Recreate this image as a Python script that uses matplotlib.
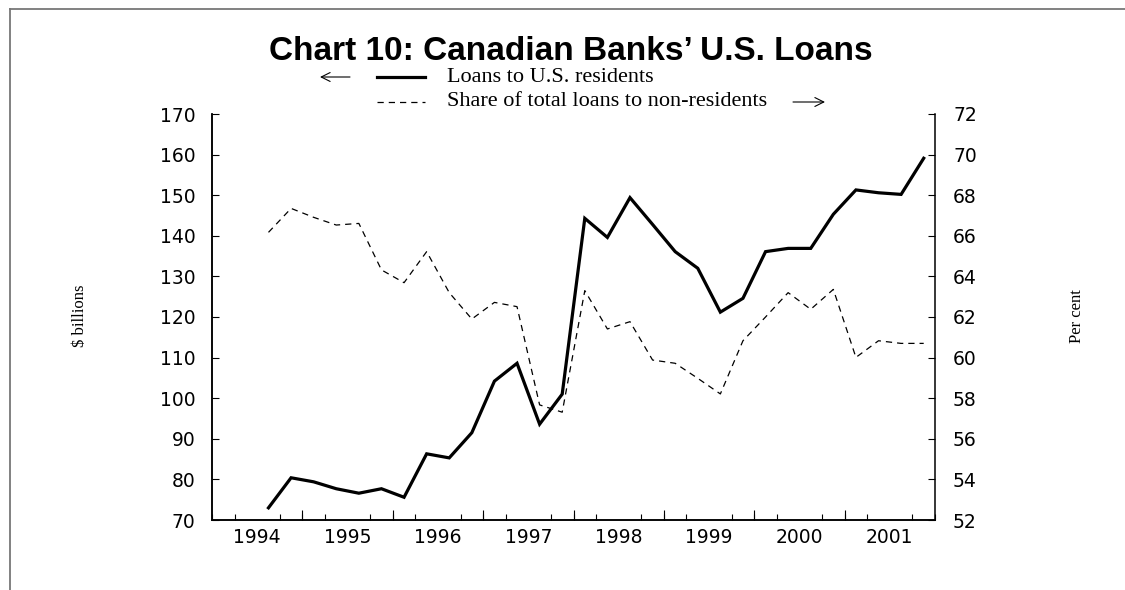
import matplotlib
matplotlib.use("Agg")
import matplotlib.pyplot as plt
from matplotlib.lines import Line2D
from matplotlib.patches import FancyArrowPatch
import numpy as np
import pandas as pd

# quarterly data, 1994Q3 - 2001Q4
quarters = pd.period_range("1994Q3", "2001Q4", freq="Q")
loans_us = [73.0, 80.4, 79.4, 77.7, 76.6, 77.7, 75.6, 86.3, 85.3, 91.5,
            104.2, 108.6, 93.6, 101.0, 144.3, 139.6, 149.4, 142.8, 136.1, 132.0,
            121.2, 124.6, 136.1, 136.9, 136.9, 145.3, 151.3, 150.6, 150.2, 159.1]
share_nonres = [66.17, 67.35, 66.91, 66.53, 66.61, 64.32, 63.69, 65.22, 63.2, 61.90,
                62.72, 62.51, 57.67, 57.31, 63.30, 61.41, 61.77, 59.88, 59.72, 58.98,
                58.21, 60.83, 62.0, 63.20, 62.38, 63.36, 60.01, 60.83, 60.70, 60.70]
years = list(range(1994, 2002))
year_labels = [str(y) for y in years]
left_ticks = list(range(70, 171, 10))
right_ticks = list(range(52, 73, 2))

# plot quarters at the middle of each quarter
x = np.array([q.year + (q.quarter - 0.5) / 4 for q in quarters])

W, H = 1125, 590
fig = plt.figure(figsize=(W / 100, H / 100), dpi=100)
ax = fig.add_axes([212 / W, 1 - 520 / H, (935 - 212) / W, (520 - 114) / H])
ax2 = ax.twinx()

tick_font = dict(family="DejaVu Sans", size=13.5)
serif = "Liberation Serif"

ax.plot(x, loans_us, color="black", lw=2.3, solid_joinstyle="miter", zorder=3)
ax2.plot(x, share_nonres, color="black", lw=0.9, linestyle=(0, (5, 4)))
ax.set_zorder(ax2.get_zorder() + 1)
ax.patch.set_visible(False)

ax.set_xlim(years[0], years[-1] + 1)
ax.set_ylim(70, 170)
ax2.set_ylim(52, 72)

ax.set_yticks(left_ticks)
ax.set_yticklabels([str(v) for v in left_ticks], fontdict=tick_font)
ax2.set_yticks(right_ticks)
ax2.set_yticklabels([str(v) for v in right_ticks], fontdict=tick_font)

# year labels centred in each year, quarter ticks, longer ticks at year breaks
ax.set_xticks([y + 0.5 for y in years])
ax.set_xticklabels(year_labels, fontdict=tick_font)
ax.set_xticks(np.arange(years[0], years[-1] + 1.01, 0.25), minor=True)
ax.tick_params(axis="x", which="major", length=0, pad=6)
ax.tick_params(axis="x", which="minor", direction="in", length=4, width=0.8)
sec = ax.secondary_xaxis("bottom")
sec.set_xticks(years[1:])
sec.set_xticklabels([])
sec.tick_params(direction="in", length=7, width=0.8)
sec.spines["bottom"].set_visible(False)

ax.tick_params(axis="y", direction="in", length=5, width=0.8, pad=12)
ax2.tick_params(axis="y", direction="in", length=5, width=0.8, pad=13)

for a in (ax, ax2):
    a.spines["top"].set_visible(False)
    for s in ("left", "right", "bottom"):
        a.spines[s].set_linewidth(1.1)
ax.spines["right"].set_visible(False)

fig.text(80 / W, 1 - 316 / H, "\\$ billions", rotation=90, ha="center", va="center",
         family=serif, fontsize=12)
fig.text(1077 / W, 1 - 316 / H, "Per cent", rotation=90, ha="center", va="center",
         family=serif, fontsize=12)

fig.text(571 / W, 1 - 51 / H, "Chart 10: Canadian Banks\u2019 U.S. Loans", ha="center",
         va="center", family="Liberation Sans", fontweight="bold", fontsize=24)

# legend with axis arrows
r1, r2 = 1 - 77 / H, 1 - 102 / H
fig.add_artist(Line2D([377 / W, 425 / W], [r1, r1], color="black", lw=2.3))
fig.add_artist(Line2D([377 / W, 425 / W], [r2, r2], color="black", lw=0.9,
                      linestyle=(0, (5, 4))))
fig.text(447 / W, r1, "Loans to U.S. residents", va="center", family=serif, fontsize=16)
fig.text(447 / W, r2, "Share of total loans to non-residents", va="center",
         family=serif, fontsize=16)
arrow = dict(arrowstyle="->", lw=0.8, color="black", shrinkA=0, shrinkB=0,
             mutation_scale=16)
fig.add_artist(FancyArrowPatch((350 / W, r1), (320 / W, r1),
                               transform=fig.transFigure, **arrow))
fig.add_artist(FancyArrowPatch((793 / W, r2), (825 / W, r2),
                               transform=fig.transFigure, **arrow))

# grey frame at top and left
fig.add_artist(Line2D([9.5 / W, 9.5 / W], [0, 1 - 9 / H], color="#777777", lw=1.3))
fig.add_artist(Line2D([9.5 / W, 1], [1 - 9 / H, 1 - 9 / H], color="#777777", lw=1.3))

fig.savefig("out.png", dpi=100)
